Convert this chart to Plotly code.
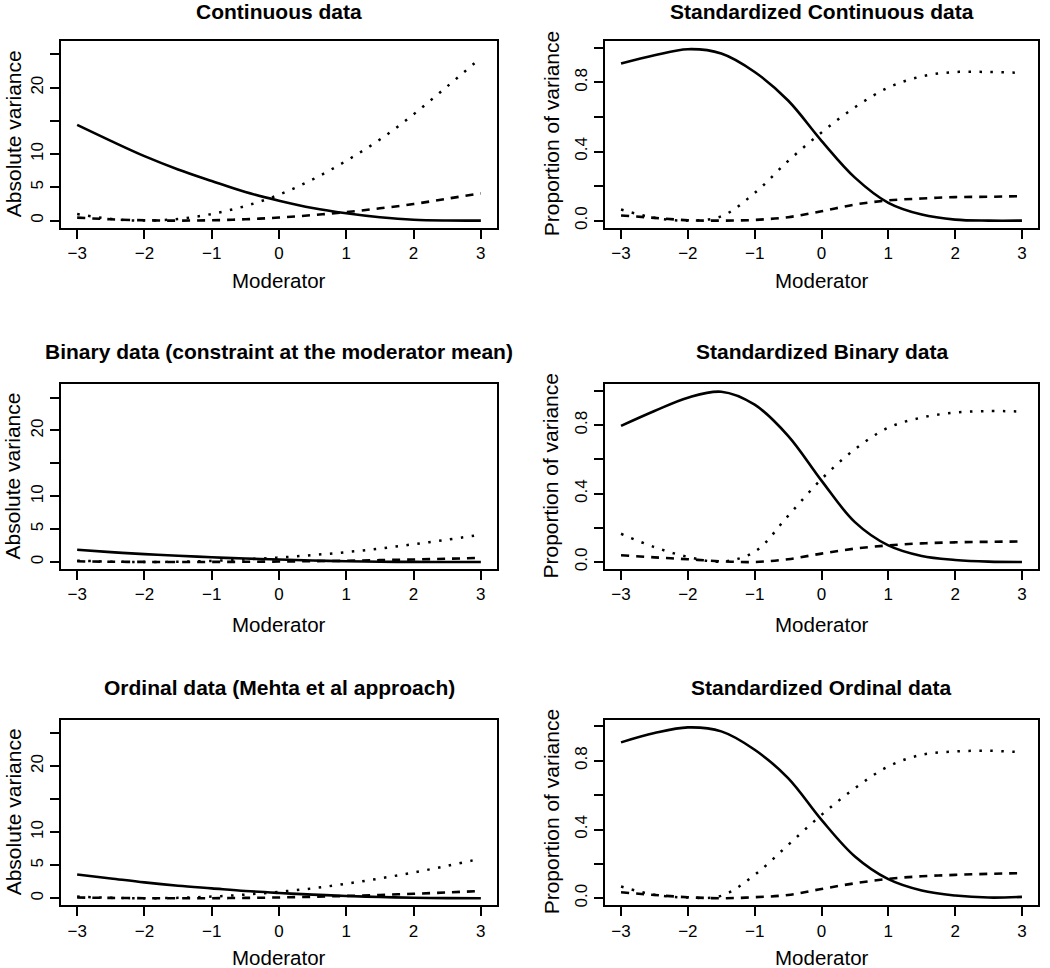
import plotly.graph_objects as go

W, H = 1050, 968
FONT = "Liberation Sans, Arial, sans-serif"

moderator = [-3, -2.5, -2, -1.5, -1, -0.5, 0, 0.5, 1, 1.5, 2, 2.5, 3]

# Panel 1: Continuous data (absolute variance)
cont_solid = [14.4, 12.0, 9.7, 7.7, 5.96, 4.3, 3.0, 1.9, 1.1, 0.5, 0.12, 0.01, 0.0]
cont_dashed = [0.45, 0.2, 0.05, 0.0, 0.05, 0.2, 0.46, 0.83, 1.28, 1.85, 2.5, 3.3, 4.1]
cont_dotted = [1.0, 0.25, 0.0, 0.25, 1.0, 2.2, 3.9, 6.2, 9.0, 12.2, 16.0, 20.2, 24.5]

# Panel 2: Standardized continuous data (proportion of variance)
scont_solid = [0.909, 0.957, 0.992, 0.967, 0.86, 0.695, 0.462, 0.249, 0.103, 0.035, 0.006, 0.0, 0.0]
scont_dashed = [0.03, 0.016, 0.002, 0.0, 0.004, 0.02, 0.054, 0.093, 0.117, 0.128, 0.136, 0.138, 0.142]
scont_dotted = [0.064, 0.016, 0.0, 0.025, 0.16, 0.345, 0.51, 0.656, 0.77, 0.835, 0.86, 0.86, 0.855]

# Panel 3: Binary data (absolute variance)
bin_solid = [1.85, 1.5, 1.2, 0.95, 0.72, 0.52, 0.37, 0.22, 0.11, 0.04, 0.01, 0.0, 0.0]
bin_dashed = [0.1, 0.04, 0.01, 0.0, 0.01, 0.03, 0.07, 0.12, 0.19, 0.28, 0.38, 0.49, 0.62]
bin_dotted = [0.2, 0.05, 0.0, 0.04, 0.17, 0.4, 0.68, 1.05, 1.5, 2.05, 2.7, 3.4, 4.15]

# Panel 4: Standardized binary data
sbin_solid = [0.796, 0.883, 0.961, 0.996, 0.92, 0.738, 0.476, 0.233, 0.097, 0.035, 0.012, 0.002, 0.0]
sbin_dashed = [0.039, 0.027, 0.016, 0.004, 0.0, 0.016, 0.049, 0.078, 0.097, 0.109, 0.115, 0.118, 0.12]
sbin_dotted = [0.165, 0.087, 0.03, 0.002, 0.06, 0.27, 0.485, 0.66, 0.786, 0.845, 0.874, 0.883, 0.88]

# Panel 5: Ordinal data (absolute variance)
ord_solid = [3.6, 3.0, 2.4, 1.9, 1.5, 1.1, 0.8, 0.55, 0.35, 0.19, 0.08, 0.02, 0.0]
ord_dashed = [0.12, 0.05, 0.01, 0.0, 0.01, 0.05, 0.12, 0.22, 0.35, 0.5, 0.68, 0.88, 1.1]
ord_dotted = [0.25, 0.06, 0.0, 0.06, 0.25, 0.55, 0.98, 1.5, 2.2, 3.0, 3.9, 4.9, 6.0]

# Panel 6: Standardized ordinal data
sord_solid = [0.907, 0.961, 0.994, 0.971, 0.864, 0.699, 0.456, 0.243, 0.111, 0.045, 0.016, 0.004, 0.008]
sord_dashed = [0.035, 0.019, 0.006, 0.0, 0.006, 0.019, 0.054, 0.087, 0.113, 0.128, 0.136, 0.142, 0.146]
sord_dotted = [0.068, 0.02, 0.004, 0.014, 0.136, 0.31, 0.485, 0.64, 0.767, 0.835, 0.854, 0.858, 0.85]

titles = [
    "Continuous data",
    "Standardized Continuous data",
    "Binary data (constraint at the moderator mean)",
    "Standardized Binary data",
    "Ordinal data (Mehta et al approach)",
    "Standardized Ordinal data",
]
x_ticks = [-3, -2, -1, 0, 1, 2, 3]
abs_ticks = [0, 5, 10, 15, 20, 25]
abs_labels = ["0", "5", "10", "", "20", ""]
prop_ticks = [0, 0.2, 0.4, 0.6, 0.8, 1.0]
prop_labels = ["0.0", "", "0.4", "", "0.8", ""]

panels = [
    (cont_solid, cont_dashed, cont_dotted),
    (scont_solid, scont_dashed, scont_dotted),
    (bin_solid, bin_dashed, bin_dotted),
    (sbin_solid, sbin_dashed, sbin_dotted),
    (ord_solid, ord_dashed, ord_dotted),
    (sord_solid, sord_dashed, sord_dotted),
]

# pixel boxes (left, right, top, bottom)
col_px = [(61, 497), (605, 1038)]
row_px = [(41, 228), (385, 570), (721, 907)]
title_y = [12, 352, 689]
xlab_y = [281, 626, 959]

fig = go.Figure()
styles = [
    dict(color="black", width=2.6, dash="solid"),
    dict(color="black", width=2.6, dash="8px,7px"),
    dict(color="black", width=2.5, dash="2.5px,8.5px"),
]

layout = {}
annotations = []
for i, series in enumerate(panels):
    r, c = divmod(i, 2)
    n = i + 1
    xa = "x" if n == 1 else f"x{n}"
    ya = "y" if n == 1 else f"y{n}"
    for s, st in zip(series, styles):
        fig.add_trace(go.Scatter(
            x=moderator, y=s, mode="lines", xaxis=xa, yaxis=ya,
            line=dict(color=st["color"], width=st["width"], dash=st["dash"],
                      shape="spline", smoothing=1.0),
            showlegend=False, hoverinfo="skip"))
    l, rr = col_px[c]
    t, b = row_px[r]
    xdom = [l / W, rr / W]
    ydom = [1 - b / H, 1 - t / H]
    is_prop = (c == 1)
    axis_common = dict(showline=True, linecolor="black", linewidth=2, mirror=True,
                       ticks="outside", ticklen=9, tickwidth=2, tickcolor="black",
                       showgrid=False, zeroline=False,
                       tickfont=dict(family=FONT, size=17, color="black"))
    layout[f"xaxis{'' if n == 1 else n}"] = dict(
        domain=xdom, anchor=ya, range=[-3.24, 3.24], tickvals=x_ticks,
        ticktext=[str(v).replace("-", "\u2212") for v in x_ticks], **axis_common)
    if is_prop:
        yd = dict(range=[-0.04, 1.04], tickvals=prop_ticks, ticktext=prop_labels)
    else:
        yd = dict(range=[-1.04, 27.04], tickvals=abs_ticks, ticktext=abs_labels)
    layout[f"yaxis{'' if n == 1 else n}"] = dict(domain=ydom, anchor=xa, tickangle=-90,
                                                 **yd, **axis_common)
    cx = (l + rr) / 2 / W
    annotations.append(dict(text=f"<b>{titles[i]}</b>", x=cx, y=1 - title_y[r] / H,
                            xref="paper", yref="paper", showarrow=False,
                            xanchor="center", yanchor="middle",
                            font=dict(family=FONT, size=21, color="black")))
    annotations.append(dict(text="Moderator", x=cx, y=1 - xlab_y[r] / H,
                            xref="paper", yref="paper", showarrow=False,
                            xanchor="center", yanchor="middle",
                            font=dict(family=FONT, size=20.5, color="black")))
    ylab_x = 13 if c == 0 else 551
    annotations.append(dict(text="Proportion of variance" if is_prop else "Absolute variance",
                            x=ylab_x / W, y=1 - (t + b) / 2 / H,
                            xref="paper", yref="paper", showarrow=False, textangle=-90,
                            xanchor="center", yanchor="middle",
                            font=dict(family=FONT, size=21, color="black")))

fig.update_layout(width=W, height=H, margin=dict(l=0, r=0, t=0, b=0),
                  paper_bgcolor="white", plot_bgcolor="white",
                  annotations=annotations, **layout)
fig.write_html("out.html", config={"displayModeBar": False},
               post_script="document.body.style.margin='0';document.body.style.overflow='hidden';")
